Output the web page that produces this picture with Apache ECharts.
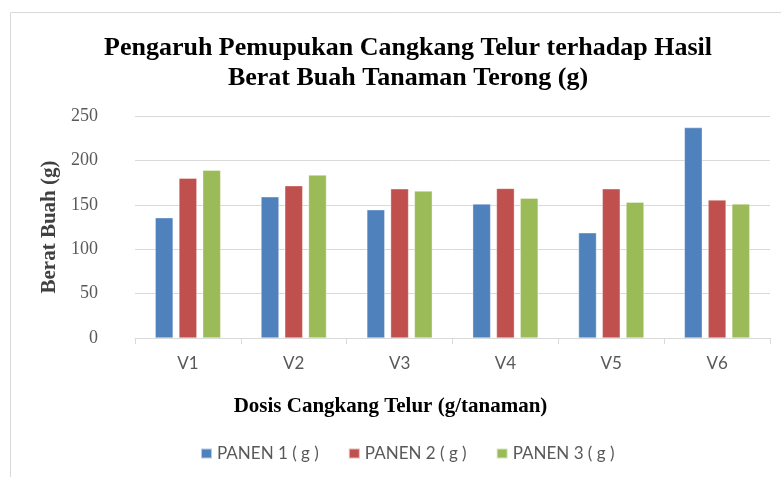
<!DOCTYPE html>
<html>
<head>
<meta charset="utf-8">
<script src="https://cdn.jsdelivr.net/npm/echarts@6/dist/echarts.min.js"></script>
<style>html,body{margin:0;padding:0;background:#fff}#c{width:781px;height:477px}</style>
</head>
<body>
<div id="c"></div>
<script>
const categories = ['V1', 'V2', 'V3', 'V4', 'V5', 'V6'];
const panen1 = [135.5, 159, 144.5, 151, 118.5, 237];
const panen2 = [180, 171.5, 168, 168.5, 168, 155.5];
const panen3 = [189, 183.5, 165.5, 157.5, 153, 151];
const seriesNames = ['PANEN 1 ( g )', 'PANEN 2 ( g )', 'PANEN 3 ( g )'];
const yTicks = [0, 50, 100, 150, 200, 250];
const colors = ['#4F81BD', '#C0504D', '#9BBB59'];

const chart = echarts.init(document.getElementById('c'), null, {renderer: 'canvas'});
const serif = '"Liberation Serif", "Times New Roman", serif';
const sans = 'Lato, "Open Sans", sans-serif';
const mk = (name, data, i) => ({
  name, type: 'bar', data, barWidth: 18, barGap: '32%',
  itemStyle: {color: colors[i], borderColor: 'rgba(255,255,255,0.6)', borderWidth: 0.6},
  emphasis: {disabled: true}
});
chart.setOption({
  animation: false,
  graphic: [{
    type: 'rect', shape: {x: 10.5, y: 12.5, width: 800, height: 500},
    style: {fill: 'none', stroke: '#D9D9D9', lineWidth: 1}, silent: true
  }, {
    type: 'text', left: 'center', top: 396, silent: true,
    style: {text: 'Dosis Cangkang Telur (g/tanaman)', font: 'bold 21px ' + serif, fill: '#000'}
  }],
  title: {
    text: 'Pengaruh Pemupukan Cangkang Telur terhadap Hasil\nBerat Buah Tanaman Terong (g)',
    left: 403, textAlign: 'center', top: 28,
    textStyle: {fontFamily: serif, fontWeight: 'bold', fontSize: 26, color: '#000', lineHeight: 30}
  },
  legend: {
    data: seriesNames, top: 445, left: 200, padding: 0, itemWidth: 11, itemHeight: 10, itemGap: 29,
    icon: 'rect',
    textStyle: {fontFamily: sans, fontSize: 17, color: '#595959'}
  },
  grid: {left: 135, right: 11, top: 116, bottom: 139},
  xAxis: {
    type: 'category', data: categories,
    axisLine: {lineStyle: {color: '#D9D9D9'}},
    axisTick: {show: true, length: 6, lineStyle: {color: '#D9D9D9'}},
    axisLabel: {fontFamily: sans, fontSize: 17, color: '#595959', margin: 17}
  },
  yAxis: {
    type: 'value', min: yTicks[0], max: yTicks[yTicks.length - 1], interval: 50,
    name: 'Berat Buah (g)', nameLocation: 'middle', nameGap: 63,
    nameTextStyle: {fontFamily: serif, fontWeight: 'bold', fontSize: 21, color: '#404040'},
    axisLine: {show: false}, axisTick: {show: false},
    axisLabel: {fontFamily: serif, fontSize: 18, color: '#595959', margin: 37},
    splitLine: {lineStyle: {color: '#D9D9D9'}}
  },
  series: [mk(seriesNames[0], panen1, 0), mk(seriesNames[1], panen2, 1), mk(seriesNames[2], panen3, 2)]
});
</script>
</body>
</html>
